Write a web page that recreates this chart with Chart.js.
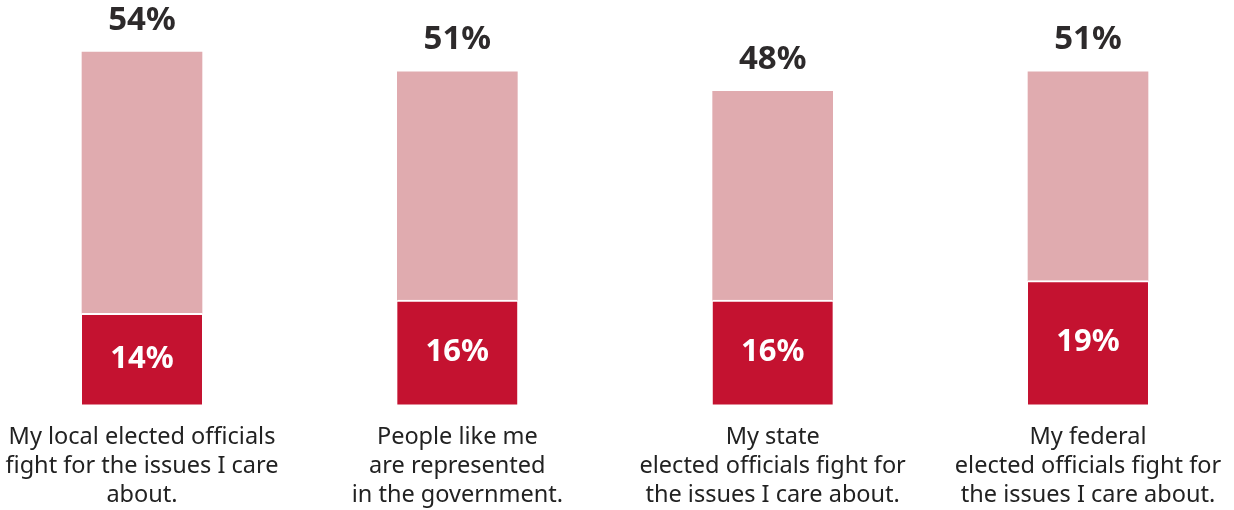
<!DOCTYPE html>
<html>
<head>
<meta charset="utf-8">
<script src="https://cdn.jsdelivr.net/npm/chart.js@4/dist/chart.umd.min.js"></script>
<style>
  html, body { margin: 0; padding: 0; background: #fff; overflow: hidden; }
  #wrap { width: 1234px; height: 510px; position: relative; }
</style>
</head>
<body>
<div id="wrap"><canvas id="chart"></canvas></div>
<script>
var categories = [
    ["My local elected officials", "fight for the issues I care", "about."],
    ["People like me", "are represented", "in the government."],
    ["My state", "elected officials fight for", "the issues I care about."],
    ["My federal", "elected officials fight for", "the issues I care about."]
];
var strongly = [14, 16, 16, 19];
var totals = [54, 51, 48, 51];
var somewhat = totals.map(function(t, i) { return t - strongly[i]; });

var darkRed = "#C41230";
var pink = "#E0ABAF";

// draws the value inside the dark segment and the total above each bar
var valueLabels = {
    id: "valueLabels",
    afterDatasetsDraw: function(chart) {
        var ctx = chart.ctx;
        var bottomMeta = chart.getDatasetMeta(0);
        var topMeta = chart.getDatasetMeta(1);
        ctx.save();
        ctx.textAlign = "center";
        ctx.textBaseline = "middle";
        ctx.font = "bold 31px 'Noto Sans', sans-serif";
        bottomMeta.data.forEach(function(bar, i) {
            ctx.fillStyle = "#ffffff";
            ctx.fillText(strongly[i] + "%", bar.x, (bar.y + bar.base) / 2);
        });
        ctx.font = "bold 33px 'Noto Sans', sans-serif";
        topMeta.data.forEach(function(bar, i) {
            ctx.fillStyle = "#2d2a2b";
            ctx.fillText(totals[i] + "%", bar.x, bar.y - 32);
        });
        ctx.restore();
    }
};

var ctx = document.getElementById("chart");
new Chart(ctx, {
    type: "bar",
    data: {
        labels: categories,
        datasets: [
            {
                data: strongly,
                backgroundColor: darkRed,
                borderColor: "#ffffff",
                borderWidth: { top: 2, left: 0, right: 0, bottom: 0 },
                borderSkipped: false,
                barThickness: 120,
                clip: false
            },
            {
                data: somewhat,
                backgroundColor: pink,
                borderWidth: 0,
                barThickness: 120,
                clip: false
            }
        ]
    },
    options: {
        responsive: true,
        maintainAspectRatio: false,
        animation: false,
        layout: { padding: { left: 142, right: 146, top: 0, bottom: -18 } },
        plugins: {
            legend: { display: false },
            tooltip: { enabled: false }
        },
        scales: {
            x: {
                stacked: true,
                offset: false,
                grid: { display: false, drawTicks: false },
                border: { display: false },
                // the wide outer labels would otherwise push the columns inward
                afterFit: function(scale) {
                    scale.paddingLeft = 0;
                    scale.paddingRight = 0;
                },
                ticks: {
                    padding: 18,
                    color: "#222222",
                    maxRotation: 0,
                    autoSkip: false,
                    font: { family: "'Noto Sans', sans-serif", size: 23.5, lineHeight: 1.24 }
                }
            },
            y: {
                stacked: true,
                display: false,
                min: 0,
                max: 62
            }
        }
    },
    plugins: [valueLabels]
});
</script>
</body>
</html>
